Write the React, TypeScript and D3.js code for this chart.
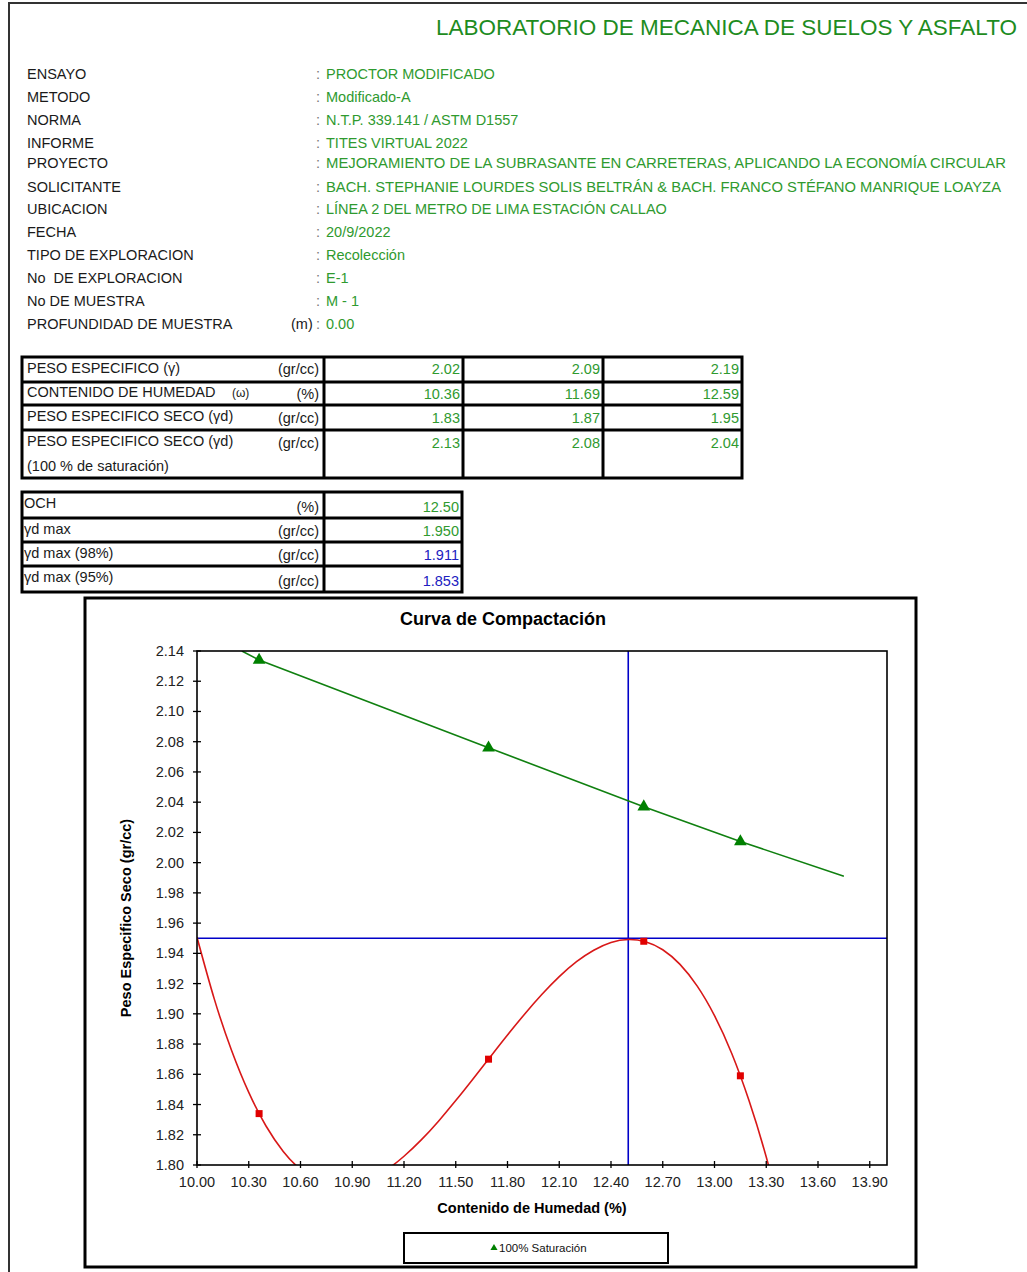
import React from "react";
import * as d3 from "d3";

// ---------- DATA ----------
const reportTitle = "LABORATORIO DE MECANICA DE SUELOS Y ASFALTO";
const headerLabels = [
  "ENSAYO", "METODO", "NORMA", "INFORME", "PROYECTO", "SOLICITANTE", "UBICACION",
  "FECHA", "TIPO DE EXPLORACION", "No  DE EXPLORACION", "No DE MUESTRA", "PROFUNDIDAD DE MUESTRA",
];
const headerValues = [
  "PROCTOR MODIFICADO", "Modificado-A", "N.T.P. 339.141 / ASTM D1557", "TITES VIRTUAL 2022",
  "MEJORAMIENTO DE LA SUBRASANTE EN CARRETERAS, APLICANDO LA ECONOMÍA CIRCULAR",
  "BACH. STEPHANIE LOURDES SOLIS BELTRÁN & BACH. FRANCO STÉFANO MANRIQUE LOAYZA",
  "LÍNEA 2 DEL METRO DE LIMA ESTACIÓN CALLAO", "20/9/2022", "Recolección", "E-1", "M - 1", "0.00",
];

const pesoEspecifico = ["2.02", "2.09", "2.19"];
const contenidoHumedad = ["10.36", "11.69", "12.59"];
const pesoSeco = ["1.83", "1.87", "1.95"];
const pesoSeco100 = ["2.13", "2.08", "2.04"];

const summaryLabels = ["OCH", "γd max", "γd max (98%)", "γd max (95%)"];
const summaryUnits = ["(%)", "(gr/cc)", "(gr/cc)", "(gr/cc)"];
const summaryValues = ["12.50", "1.950", "1.911", "1.853"];

const chartTitle = "Curva de Compactación";
const xAxisTitle = "Contenido de Humedad (%)";
const yAxisTitle = "Peso Especifico Seco (gr/cc)";
const legendLabel = "100% Saturación";

const xTicks = [10.0, 10.3, 10.6, 10.9, 11.2, 11.5, 11.8, 12.1, 12.4, 12.7, 13.0, 13.3, 13.6, 13.9];
const yTicks = [1.8, 1.82, 1.84, 1.86, 1.88, 1.9, 1.92, 1.94, 1.96, 1.98, 2.0, 2.02, 2.04, 2.06, 2.08, 2.1, 2.12, 2.14];

// measured points
const humidity = [10.36, 11.69, 12.59, 13.15];
const dryDensity = [1.834, 1.87, 1.948, 1.859];
const saturation = [2.134, 2.076, 2.037, 2.014];

// 100% saturation line as drawn
const satLineX = [10.26, 10.36, 11.69, 12.59, 13.15, 13.75];
const satLineY = [2.14, 2.134, 2.076, 2.037, 2.014, 1.991];

// compaction curve as drawn
const curveX = [10.0, 10.1, 10.2, 10.3, 10.4, 10.5, 10.6, 10.7, 10.8, 10.9, 11.0, 11.1, 11.2, 11.3, 11.4, 11.5, 11.6, 11.7, 11.8, 11.9, 12.0, 12.1, 12.2, 12.3, 12.4, 12.5, 12.6, 12.7, 12.8, 12.9, 13.0, 13.1, 13.2, 13.3, 13.4];
const curveY = [1.9506, 1.9099, 1.8759, 1.848, 1.8258, 1.809, 1.7971, 1.7898, 1.7865, 1.7868, 1.7905, 1.7969, 1.8058, 1.8166, 1.829, 1.8426, 1.8569, 1.8715, 1.886, 1.8999, 1.9129, 1.9246, 1.9345, 1.9421, 1.9472, 1.9492, 1.9477, 1.9424, 1.9327, 1.9183, 1.8988, 1.8738, 1.8427, 1.8053, 1.761];

const optimumHumidity = 12.5;
const maxDensity = 1.95;

// ---------- STYLE / LAYOUT ----------
const FONT = "'Liberation Sans', Arial, Helvetica, sans-serif";
const TXT = "#1a1a1a";
const GREEN_TITLE = "#1e8c1e";
const GREEN = "#2f9a2f";
const BLUE_VAL = "#2020c0";

const headerRowY = [74, 97, 120, 143, 163, 187, 209, 232, 255, 278, 301, 324];

const plot = { left: 197, right: 887, top: 651, bottom: 1165 };

export default function App() {
  const x = d3.scaleLinear().domain([10, 14]).range([plot.left, plot.right]);
  const y = d3.scaleLinear().domain([1.8, 2.14]).range([plot.bottom, plot.top]);

  const curvePts = curveX.map((v, i) => [v, curveY[i]] as [number, number]);
  const satPts = satLineX.map((v, i) => [v, satLineY[i]] as [number, number]);

  const curvePath = d3
    .line<[number, number]>()
    .x((d) => x(d[0]))
    .y((d) => y(d[1]))
    .curve(d3.curveNatural)(curvePts) as string;
  const satPath = d3
    .line<[number, number]>()
    .x((d) => x(d[0]))
    .y((d) => y(d[1]))(satPts) as string;

  const tri = d3.symbol().type(d3.symbolTriangle).size(70)() as string;
  const triSmall = d3.symbol().type(d3.symbolTriangle).size(22)() as string;

  const t1Cols = [22, 324, 463, 603, 742];
  const t1Rows = [357, 382, 405, 430, 478];
  const t2Cols = [22, 324, 462];
  const t2Rows = [492, 518, 542, 566, 592];
  const t1ValueBase = [374, 398.5, 423, 448];
  const t1Values = [pesoEspecifico, contenidoHumedad, pesoSeco, pesoSeco100];

  return (
    <svg
      width={1027}
      height={1272}
      style={{ position: "absolute", left: 0, top: 0, background: "#fff" }}
      fontFamily={FONT}
    >
      <rect x={0} y={0} width={1027} height={1272} fill="#fff" />
      <line x1={9} y1={2} x2={9} y2={1272} stroke="#333" strokeWidth={2} />
      <line x1={8} y1={3} x2={1027} y2={3} stroke="#333" strokeWidth={2} />

      <text x={1017} y={35} textAnchor="end" fontSize={22} fill={GREEN_TITLE} textLength={581} lengthAdjust="spacingAndGlyphs">
        {reportTitle}
      </text>

      {headerLabels.map((l, i) => (
        <g key={l}>
          <text x={27} y={headerRowY[i] + 5} fontSize={14.5} fill={TXT} style={{ whiteSpace: "pre" }}>
            {l}
          </text>
          {i === headerLabels.length - 1 && (
            <text x={291} y={headerRowY[i] + 5} fontSize={14.5} fill={TXT}>(m)</text>
          )}
          <text x={316} y={headerRowY[i] + 5} fontSize={14.5} fill="#777">:</text>
          <text
            x={326}
            y={headerRowY[i] + 5}
            fontSize={14.5}
            fill={GREEN}
            {...(i === 4 ? { textLength: 680, lengthAdjust: "spacingAndGlyphs" } : {})}
            {...(i === 5 ? { textLength: 675, lengthAdjust: "spacingAndGlyphs" } : {})}
          >
            {headerValues[i]}
          </text>
        </g>
      ))}

      <g fontSize={14.5} fill={TXT}>
        <text x={27} y={372.5}>PESO ESPECIFICO (γ)</text>
        <text x={319} y={374} textAnchor="end">(gr/cc)</text>
        <text x={27} y={396.5}>CONTENIDO DE HUMEDAD</text>
        <text x={232} y={396.5} fontSize={12}>(ω)</text>
        <text x={319} y={398.5} textAnchor="end">(%)</text>
        <text x={27} y={420.5}>PESO ESPECIFICO SECO (γd)</text>
        <text x={319} y={423} textAnchor="end">(gr/cc)</text>
        <text x={27} y={446}>PESO ESPECIFICO SECO (γd)</text>
        <text x={319} y={448} textAnchor="end">(gr/cc)</text>
        <text x={27} y={471}>(100 % de saturación)</text>
      </g>
      {t1Values.map((row, r) =>
        row.map((v, c) => (
          <text key={`t1-${r}-${c}`} x={t1Cols[c + 2] - 3} y={t1ValueBase[r]} textAnchor="end" fontSize={14.5} fill={GREEN}>
            {v}
          </text>
        ))
      )}
      <g stroke="#000" strokeWidth={3} fill="none">
        <rect x={t1Cols[0]} y={t1Rows[0]} width={t1Cols[4] - t1Cols[0]} height={t1Rows[4] - t1Rows[0]} />
        {t1Rows.slice(1, 4).map((r) => (
          <line key={r} x1={t1Cols[0]} y1={r} x2={t1Cols[4]} y2={r} />
        ))}
        {t1Cols.slice(1, 4).map((c) => (
          <line key={c} x1={c} y1={t1Rows[0]} x2={c} y2={t1Rows[4]} />
        ))}
      </g>

      {summaryLabels.map((l, i) => {
        const top = t2Rows[i];
        const bot = t2Rows[i + 1];
        return (
          <g key={l} fontSize={14.5}>
            <text x={24} y={top + 16} fill={TXT}>{l}</text>
            <text x={319} y={bot - 6} textAnchor="end" fill={TXT}>{summaryUnits[i]}</text>
            <text x={459} y={bot - 6} textAnchor="end" fill={i < 2 ? GREEN : BLUE_VAL}>{summaryValues[i]}</text>
          </g>
        );
      })}
      <g stroke="#000" strokeWidth={3} fill="none">
        <rect x={t2Cols[0]} y={t2Rows[0]} width={t2Cols[2] - t2Cols[0]} height={t2Rows[4] - t2Rows[0]} />
        {t2Rows.slice(1, 4).map((r) => (
          <line key={r} x1={t2Cols[0]} y1={r} x2={t2Cols[2]} y2={r} />
        ))}
        <line x1={t2Cols[1]} y1={t2Rows[0]} x2={t2Cols[1]} y2={t2Rows[4]} />
      </g>

      <rect x={85} y={598} width={831} height={669} fill="#fff" stroke="#000" strokeWidth={3} />
      <text x={503} y={625} textAnchor="middle" fontSize={18} fontWeight="bold" fill="#000">
        {chartTitle}
      </text>

      <defs>
        <clipPath id="plotClip">
          <rect x={plot.left} y={plot.top} width={plot.right - plot.left} height={plot.bottom - plot.top} />
        </clipPath>
      </defs>

      <g clipPath="url(#plotClip)">
        <line x1={plot.left} x2={plot.right} y1={y(maxDensity)} y2={y(maxDensity)} stroke="#0000c8" strokeWidth={1.6} />
        <line x1={x(optimumHumidity)} x2={x(optimumHumidity)} y1={plot.top} y2={plot.bottom} stroke="#0000c8" strokeWidth={1.6} />
        <path d={satPath} fill="none" stroke="#108010" strokeWidth={1.6} />
        <path d={curvePath} fill="none" stroke="#d81818" strokeWidth={1.6} />
      </g>

      <rect x={plot.left} y={plot.top} width={plot.right - plot.left} height={plot.bottom - plot.top} fill="none" stroke="#000" strokeWidth={1.6} />

      {humidity.map((h, i) => (
        <rect key={`sq${i}`} x={x(h) - 3.5} y={y(dryDensity[i]) - 3.5} width={7} height={7} fill="#e00000" />
      ))}
      {humidity.map((h, i) => (
        <path key={`tr${i}`} d={tri} transform={`translate(${x(h)},${y(saturation[i])})`} fill="#008000" />
      ))}

      {yTicks.map((t) => (
        <g key={`y${t}`}>
          <line x1={plot.left - 4} x2={plot.left + 4} y1={y(t)} y2={y(t)} stroke="#000" strokeWidth={1.3} />
          <text x={184} y={y(t) + 5} textAnchor="end" fontSize={14.5} fill="#222">
            {t.toFixed(2)}
          </text>
        </g>
      ))}
      {xTicks.map((t) => (
        <g key={`x${t}`}>
          <line x1={x(t)} x2={x(t)} y1={plot.bottom - 4} y2={plot.bottom + 3} stroke="#000" strokeWidth={1.3} />
          <text x={x(t)} y={1187} textAnchor="middle" fontSize={14.5} fill="#222">
            {t.toFixed(2)}
          </text>
        </g>
      ))}

      <text x={532} y={1213} textAnchor="middle" fontSize={14.5} fontWeight="bold" fill="#000">
        {xAxisTitle}
      </text>
      <text
        transform={`translate(131,918) rotate(-90)`}
        textAnchor="middle"
        fontSize={14.5}
        fontWeight="bold"
        fill="#000"
      >
        {yAxisTitle}
      </text>

      <rect x={404} y={1233} width={264} height={30} fill="#fff" stroke="#000" strokeWidth={2} />
      <path d={triSmall} transform="translate(494,1248)" fill="#008000" />
      <text x={499} y={1252} fontSize={11.5} fill="#111">
        {legendLabel}
      </text>
    </svg>
  );
}
